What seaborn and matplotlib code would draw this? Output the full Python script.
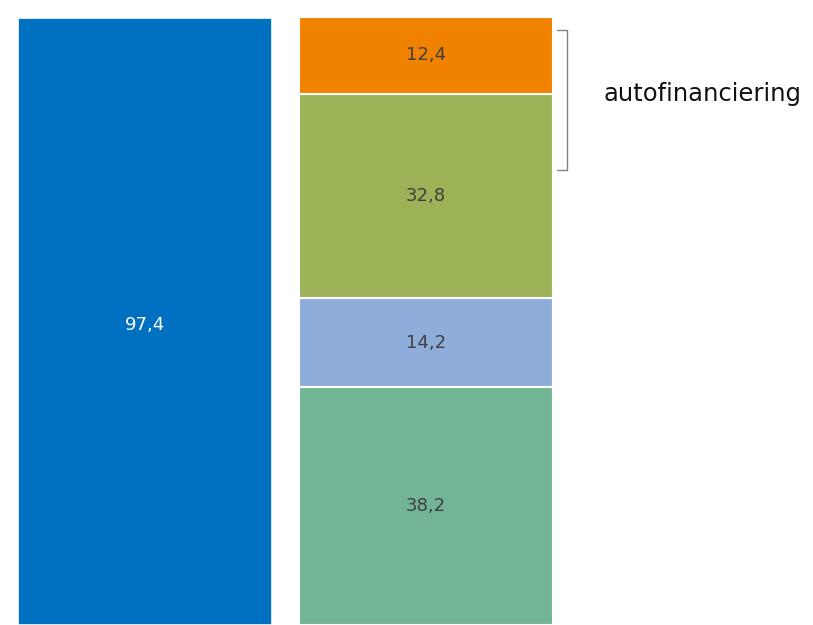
import seaborn as sns
import numpy as np
import pandas as pd
from matplotlib import pyplot as plt

# data
left_value = 97.4
right_values = [38.2, 14.2, 32.8, 12.4]
right_colors = ["#72b596", "#8eaddb", "#9bb356", "#f08200"]
left_color = "#0070c0"
labels = ["links", "rechts"]
bracket_label = "autofinanciering"

sns.set_theme(style="white")
plt.rcParams['font.family'] = ['DejaVu Sans']

fig = plt.figure(figsize=(8.13, 6.25), dpi=100)
ax = fig.add_axes([0, 0, 1, 1])

w = 0.904
sns.barplot(x=[labels[0]], y=[left_value], color=left_color, width=w,
            saturation=1, edgecolor="white", linewidth=1.2, ax=ax, order=labels)
ax.text(0, left_value / 2 - 0.6, f"{left_value:.1f}".replace(".", ","),
        ha="center", va="center", color="white", fontsize=13)

bottom = 0
for v, c in zip(right_values, right_colors):
    sns.barplot(x=[labels[1]], y=[v], bottom=bottom, color=c, width=w,
                saturation=1, edgecolor="white", linewidth=1.5, ax=ax,
                order=labels)
    ax.text(1, bottom + v / 2, f"{v:.1f}".replace(".", ","),
            ha="center", va="center", color="#404040", fontsize=13)
    bottom += v

# bracket
bx, by0, by1 = 1.50, 73.0, 95.5
ax.plot([bx - 0.035, bx, bx, bx - 0.035], [by1, by1, by0, by0],
        color="#808080", lw=1)
ax.text(1.63, 85.2, bracket_label, ha="left", va="center",
        fontsize=17.5, color="#111111")

ax.set_xlim(-0.516, 2.377)
ax.set_ylim(0, 100.29)
ax.axis("off")

plt.savefig("out.png", dpi=100)
